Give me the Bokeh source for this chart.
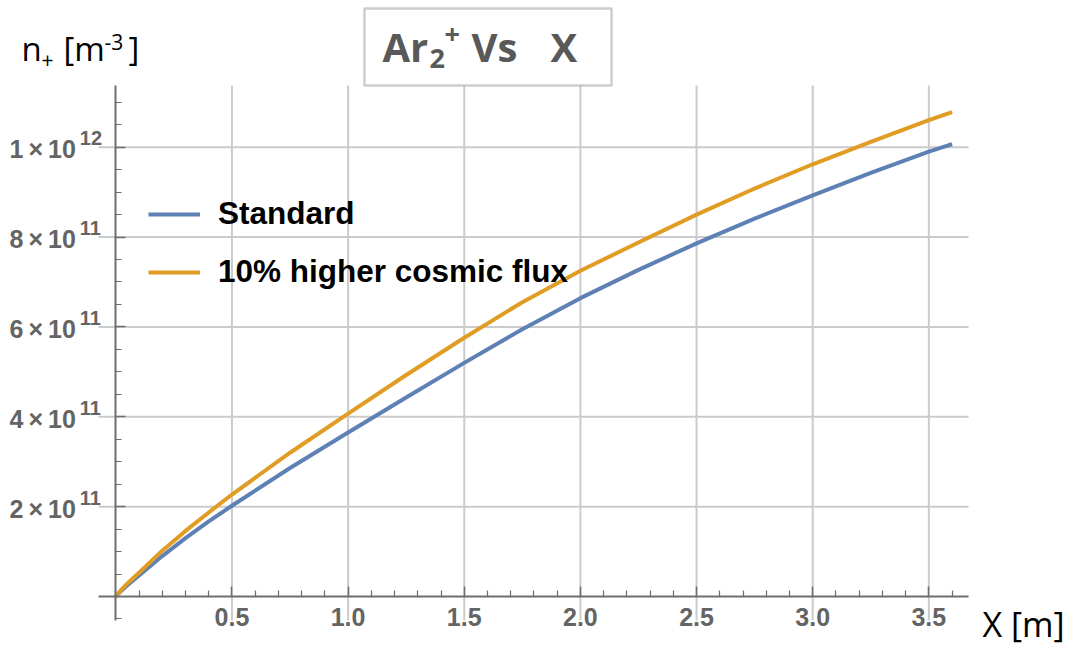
import numpy as np
from bokeh.plotting import figure
from bokeh.models import (Range1d, LinearAxis, FixedTicker, Legend, LegendItem,
                          Label, LabelSet, ColumnDataSource, BoxAnnotation)
from bokeh.core.properties import value
from bokeh.embed import file_html
from bokeh.resources import INLINE

# ---------------- data ----------------
x_m = [0, 0.02, 0.05, 0.1, 0.2, 0.3, 0.4, 0.5, 0.75, 1.0, 1.25, 1.5, 1.75, 2.0, 2.25, 2.5, 2.75, 3.0, 3.25, 3.5, 3.6]
n_standard = [0, 0.11, 0.25, 0.47, 0.9, 1.3, 1.67, 2.02, 2.86, 3.65, 4.43, 5.2, 5.95, 6.64, 7.27, 7.86, 8.41, 8.93, 9.43, 9.9, 10.07]
n_higher = [0, 0.13, 0.29, 0.53, 1.02, 1.46, 1.87, 2.27, 3.2, 4.07, 4.93, 5.76, 6.55, 7.25, 7.88, 8.5, 9.08, 9.62, 10.12, 10.6, 10.78]
scale = 1e11
series_names = ["Standard", "10% higher cosmic flux"]
series_colors = ["#5E81B5", "#E19C24"]

x_ticks = [0.5, 1.0, 1.5, 2.0, 2.5, 3.0, 3.5]
x_tick_labels = ["0.5", "1.0", "1.5", "2.0", "2.5", "3.0", "3.5"]
y_ticks = [2e11, 4e11, 6e11, 8e11, 1e12]
y_tick_mant = ["2", "4", "6", "8", "1"]
y_tick_exp = ["11", "11", "11", "11", "12"]

# ---------------- layout helpers (pixel -> data) ----------------
X0PX, XS = 115.3, 232.3
Y0PX, YS = 596.0, 44.93
def dx(px):
    return (px - X0PX) / XS
def dy(py):
    return (Y0PX - py) / YS * 1e11

W, H = 1074, 648
FL, FR, FT, FB = 98, 968, 85, 620   # visible plot box

p = figure(width=W, height=H, x_range=Range1d(dx(0), dx(W)), y_range=Range1d(dy(H), dy(0)),
           x_axis_type=None, y_axis_type=None, toolbar_location=None, output_backend="svg",
           min_border_left=0, min_border_right=0, min_border_top=0, min_border_bottom=0)
p.outline_line_color = None
p.background_fill_color = "white"
p.border_fill_color = "white"
p.xgrid.visible = False
p.ygrid.visible = False

AX_COL = "#6e6e6e"
GRID_COL = "#cbcbcb"
LBL_COL = "#646464"

x_minor = [round(v, 2) for v in np.arange(0.0, 3.61, 0.1) if not any(abs(v - t) < 1e-6 for t in x_ticks)]
y_minor = [v * 1e11 for v in np.arange(-0.5, 11.01, 0.5) if not any(abs(v * 1e11 - t) < 1 for t in y_ticks)]
xticker = FixedTicker(ticks=x_ticks, minor_ticks=x_minor)
yticker = FixedTicker(ticks=y_ticks, minor_ticks=y_minor)

# grid lines, bounded to the plot box
p.segment(x0=x_ticks, x1=x_ticks, y0=[dy(FB)] * len(x_ticks), y1=[dy(FT)] * len(x_ticks),
          line_color=GRID_COL, line_width=2)
p.segment(x0=[dx(FL)] * len(y_ticks), x1=[dx(FR)] * len(y_ticks), y0=y_ticks, y1=y_ticks,
          line_color=GRID_COL, line_width=2)

axis_style = dict(axis_line_color=AX_COL, axis_line_width=2,
                  major_tick_line_color=AX_COL, major_tick_line_width=1.5, major_tick_in=10, major_tick_out=0,
                  minor_tick_line_color=AX_COL, minor_tick_line_width=1.2, minor_tick_in=6, minor_tick_out=0)

xaxis = LinearAxis(ticker=xticker, fixed_location=0, bounds=(dx(FL), dx(FR)),
                   major_label_overrides={t: l for t, l in zip(x_ticks, x_tick_labels)},
                   major_label_text_font="Liberation Sans", major_label_text_font_style="bold",
                   major_label_text_font_size="25px", major_label_text_color=LBL_COL,
                   major_label_standoff=11, **axis_style)
p.add_layout(xaxis, "below")

yaxis = LinearAxis(ticker=yticker, fixed_location=0, bounds=(dy(FB), dy(FT)),
                   major_label_overrides={t: "" for t in y_ticks},
                   major_label_text_font_size="1px", **axis_style)
p.add_layout(yaxis, "left")

# y tick labels (mantissa x 10 with exponent)
ysrc = ColumnDataSource(dict(y=y_ticks, x=[0] * len(y_ticks),
                             base=[m + "\u2009×\u200910" for m in y_tick_mant], exp=y_tick_exp))
p.add_layout(LabelSet(x="x", y="y", text="base", source=ysrc, x_offset=-40, y_offset=-2,
                      text_align="right", text_baseline="middle",
                      text_font=value("Liberation Sans"), text_font_style=value("bold"),
                      text_font_size=value("25px"), text_color=LBL_COL))
p.add_layout(LabelSet(x="x", y="y", text="exp", source=ysrc, x_offset=-36, y_offset=9,
                      text_align="left", text_baseline="middle",
                      text_font=value("Liberation Sans"), text_font_style=value("bold"),
                      text_font_size=value("20px"), text_color=LBL_COL))

# curves
ys = [[v * scale for v in n_standard], [v * scale for v in n_higher]]
rends = []
for yv, c in zip(ys, series_colors):
    rends.append(p.line(x_m, yv, line_color=c, line_width=4, line_join="round"))

legend = Legend(items=[LegendItem(label=n, renderers=[r]) for n, r in zip(series_names, rends)],
                location=(148, H - 197 - 93), padding=0, margin=0, spacing=21,
                glyph_width=52, glyph_height=36, label_height=36, label_standoff=18,
                label_text_font="Liberation Sans", label_text_font_style="bold",
                label_text_font_size="31.5px", label_text_color="black",
                border_line_color=None, background_fill_alpha=0)
p.add_layout(legend)

# title box
p.add_layout(BoxAnnotation(left=364, right=611, top=8, bottom=85,
                           left_units="canvas", right_units="canvas", top_units="canvas", bottom_units="canvas",
                           fill_color="white", fill_alpha=1, line_color="#5a5a5a", line_width=2.5))

BASE_K = 0.41   # empirical shift of the rendered baseline
def lab(text, px, py, size, bold=False, color="black", font="Open Sans"):
    p.add_layout(Label(x=dx(px), y=dy(py - BASE_K * size), text=text, text_align="left",
                       text_baseline="alphabetic",
                       text_font=font, text_font_style="bold" if bold else "normal",
                       text_font_size=f"{size}px", text_color=color))

TC = "#595959"
lab("Ar", 382, 62, 40, True, TC)
lab("2", 429, 69, 27, True, TC)
lab("+", 444, 45, 27, True, TC)
lab("Vs", 471, 62, 40, True, TC)
lab("X", 550, 62, 40, True, TC)

# axis titles
lab("n", 21, 62, 33)
lab("+", 41, 68, 21)
lab("[m", 63, 62, 33)
lab("-3", 104, 50, 21)
lab("]", 128, 62, 33)
lab("X [m]", 982, 637, 34)

open("out.html", "w").write(file_html(p, INLINE))
